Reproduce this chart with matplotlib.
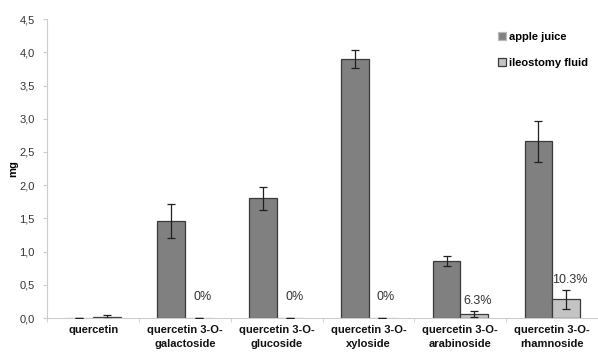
import numpy as np
import matplotlib.pyplot as plt
from matplotlib.ticker import FuncFormatter, MultipleLocator

plt.rcParams['font.family'] = ['Liberation Sans', 'DejaVu Sans']

# quercetin glycosides: amount in apple juice vs. recovered in ileostomy fluid
compounds = ["quercetin", "quercetin 3-O-\ngalactoside", "quercetin 3-O-\nglucoside",
             "quercetin 3-O-\nxyloside", "quercetin 3-O-\narabinoside", "quercetin 3-O-\nrhamnoside"]
apple = [0.0, 1.46, 1.80, 3.90, 0.86, 2.66]
apple_err = [0.0, 0.26, 0.17, 0.14, 0.08, 0.31]
ileo = [0.02, 0.0, 0.0, 0.0, 0.055, 0.28]
ileo_err = [0.03, 0.0, 0.0, 0.0, 0.045, 0.14]
recovery = [None, "0%", "0%", "0%", "6.3%", "10.3%"]

fig = plt.figure(figsize=(5.98, 3.53), dpi=100)
ax = fig.add_axes([0.079, 0.099, 0.921, 0.847])

x = np.arange(len(compounds))
w = 0.30
edge_a = ["#bbbbbb" if v == 0 else "#3a3a3a" for v in apple]
edge_i = ["#bbbbbb" if v == 0 else "#3a3a3a" for v in ileo]
ax.bar(x - w / 2, apple, w, color="#808080", edgecolor=edge_a, linewidth=0.9,
       label="apple juice", zorder=2)
ax.bar(x + w / 2, ileo, w, color="#c4c4c4", edgecolor=edge_i, linewidth=0.9,
       label="ileostomy fluid", zorder=2)
ax.errorbar(x - w / 2, apple, yerr=apple_err, fmt="none", ecolor="#202020",
            elinewidth=0.9, capsize=3, capthick=0.9, zorder=3)
ax.errorbar(x + w / 2, ileo, yerr=ileo_err, fmt="none", ecolor="#202020",
            elinewidth=0.9, capsize=3, capthick=0.9, zorder=3)

# recovery percentages above the ileostomy bars
for xi, v, e, t in zip(x, ileo, ileo_err, recovery):
    if t:
        ty = 0.32 if v == 0 else v + e + 0.16
        ax.text(xi + w / 2 + 0.04, ty, t, ha="center", va="center",
                fontsize=9, color="#333333")

ax.set_xlim(-0.5, len(compounds) - 0.5)
ax.set_ylim(0, 4.5)
ax.yaxis.set_major_locator(MultipleLocator(0.5))
ax.yaxis.set_major_formatter(FuncFormatter(lambda v, p: f"{v:.1f}".replace(".", ",")))
ax.set_xticks(x)
ax.set_xticklabels(compounds, fontsize=8, fontweight="bold", color="#111111",
                   linespacing=1.45)
ax.set_xticks(np.arange(len(compounds) + 1) - 0.5, minor=True)
ax.tick_params(axis="x", which="major", length=0, pad=5)
ax.tick_params(axis="x", which="minor", length=3, color="#cccccc")
ax.tick_params(axis="y", length=3, pad=6, color="#cccccc", labelsize=8, labelcolor="#333333")
ax.set_ylabel("mg", fontsize=8, fontweight="bold", labelpad=1)

for s in ["top", "right"]:
    ax.spines[s].set_visible(False)
for s in ["left", "bottom"]:
    ax.spines[s].set_color("#cccccc")
    ax.spines[s].set_linewidth(0.8)

ax.legend(loc="upper right", bbox_to_anchor=(1.0, 0.99), frameon=False,
          prop={"size": 8, "weight": "bold"}, handlelength=0.7, handleheight=0.7,
          labelspacing=1.4, handletextpad=0.3)

fig.savefig("out.png", dpi=100)
